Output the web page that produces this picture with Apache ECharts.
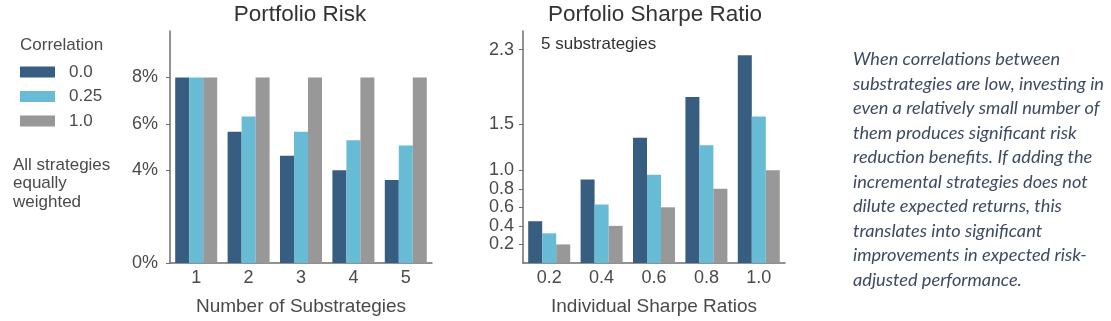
<!DOCTYPE html>
<html>
<head>
<meta charset="utf-8">
<script src="https://cdn.jsdelivr.net/npm/echarts@6/dist/echarts.min.js"></script>
<style>
  html, body { margin: 0; padding: 0; background: #fff; }
  #chart { width: 1111px; height: 321px; }
</style>
</head>
<body>
<div id="chart"></div>
<script>
// Correlation levels between substrategies (legend entries)
const correlations = ['0.0', '0.25', '1.0'];
const seriesColors = ['#375e80', '#67bbd5', '#989898'];

// Left panel: portfolio risk (%) by number of substrategies
const substrategyCounts = ['1', '2', '3', '4', '5'];
const riskCorr0 = [8.0, 5.66, 4.62, 4.0, 3.58];
const riskCorr025 = [8.0, 6.32, 5.66, 5.29, 5.06];
const riskCorr1 = [8.0, 8.0, 8.0, 8.0, 8.0];
const riskTicks = [0, 4, 6, 8];

// Right panel: portfolio Sharpe ratio with 5 substrategies
const individualSharpe = ['0.2', '0.4', '0.6', '0.8', '1.0'];
const sharpeCorr0 = [0.45, 0.90, 1.35, 1.79, 2.24];
const sharpeCorr025 = [0.32, 0.63, 0.95, 1.27, 1.58];
const sharpeCorr1 = [0.2, 0.4, 0.6, 0.8, 1.0];
const sharpeTicks = [0.2, 0.4, 0.6, 0.8, 1.0, 1.5, 2.3];

// Side note
const noteLines = [
  'When correlations between',
  'substrategies are low, investing in',
  'even a relatively small number of',
  'them produces significant risk',
  'reduction benefits. If adding the',
  'incremental strategies does not',
  'dilute expected returns, this',
  'translates into significant',
  'improvements in expected risk-',
  'adjusted performance.'
];

const FONT = '"Liberation Sans", Arial, sans-serif';
const TEXT = '#4a4a4a';
const AXIS = '#6e6e6e';

function axisX(cats, name, gridIndex) {
  return {
    type: 'category', data: cats, gridIndex,
    name, nameLocation: 'middle', nameGap: 34,
    nameTextStyle: { fontFamily: FONT, fontSize: 19, color: TEXT },
    axisLine: { lineStyle: { color: AXIS, width: 1.5 } },
    axisTick: { show: false },
    axisLabel: { fontFamily: FONT, fontSize: 18, color: TEXT, margin: 6 }
  };
}

function axisY(max, ticks, fmt, gridIndex, margin) {
  return {
    type: 'value', min: 0, max, gridIndex,
    splitLine: { show: false },
    axisLine: { show: true, lineStyle: { color: AXIS, width: 1.5 } },
    axisTick: { show: true, length: 4, lineStyle: { color: AXIS }, customValues: ticks },
    axisLabel: { fontFamily: FONT, fontSize: 18, color: TEXT, margin, hideOverlap: false,
                 customValues: ticks, formatter: fmt }
  };
}

function bars(values, idx, axisIndex) {
  return {
    type: 'bar', name: correlations[idx], data: values,
    xAxisIndex: axisIndex, yAxisIndex: axisIndex,
    barWidth: 14, barGap: '0%',
    itemStyle: { color: seriesColors[idx] },
    emphasis: { disabled: true }
  };
}

const chart = echarts.init(document.getElementById('chart'), null, { renderer: 'canvas' });
chart.setOption({
  animation: false,
  color: seriesColors,
  textStyle: { fontFamily: FONT },
  title: [
    { text: 'Portfolio Risk', left: 300, top: 3, textAlign: 'center', padding: 0,
      textStyle: { fontFamily: FONT, fontSize: 22.5, fontWeight: 'normal', color: '#333' } },
    { text: 'Porfolio Sharpe Ratio', left: 655, top: 3, textAlign: 'center', padding: 0,
      textStyle: { fontFamily: FONT, fontSize: 22.5, fontWeight: 'normal', color: '#333' } }
  ],
  legend: {
    data: correlations, orient: 'vertical', left: 20, top: 62.5, padding: 0,
    itemWidth: 35, itemHeight: 11, itemGap: 5.5, icon: 'rect',
    selectedMode: false,
    textStyle: { fontFamily: FONT, fontSize: 17, color: TEXT, lineHeight: 19, padding: [0, 0, 0, 9] }
  },
  grid: [
    { left: 170, right: 679, top: 31, bottom: 56 },
    { left: 523, right: 326, top: 31, bottom: 56 }
  ],
  xAxis: [
    axisX(substrategyCounts, 'Number of Substrategies', 0),
    axisX(individualSharpe, 'Individual Sharpe Ratios', 1)
  ],
  yAxis: [
    axisY(10, riskTicks, v => v + '%', 0, 12),
    axisY(2.5, sharpeTicks, v => Number(v).toFixed(1), 1, 9)
  ],
  series: [
    bars(riskCorr0, 0, 0), bars(riskCorr025, 1, 0), bars(riskCorr1, 2, 0),
    bars(sharpeCorr0, 0, 1), bars(sharpeCorr025, 1, 1), bars(sharpeCorr1, 2, 1)
  ],
  graphic: [
    { type: 'text', left: 20, top: 37,
      style: { text: 'Correlation', font: '17px ' + FONT, fill: TEXT } },
    { type: 'text', left: 13, top: 156,
      style: { text: 'All strategies\nequally\nweighted', font: '17px ' + FONT, fill: TEXT, lineHeight: 18.5 } },
    { type: 'text', left: 541, top: 36,
      style: { text: '5 substrategies', font: '17px ' + FONT, fill: '#333' } },
    { type: 'text', left: 853, top: 47,
      style: { text: noteLines.join('\n'), font: 'italic 18.2px Lato, "Open Sans", sans-serif',
               fill: '#3d4a62', lineHeight: 24.5 } }
  ]
});
</script>
</body>
</html>
